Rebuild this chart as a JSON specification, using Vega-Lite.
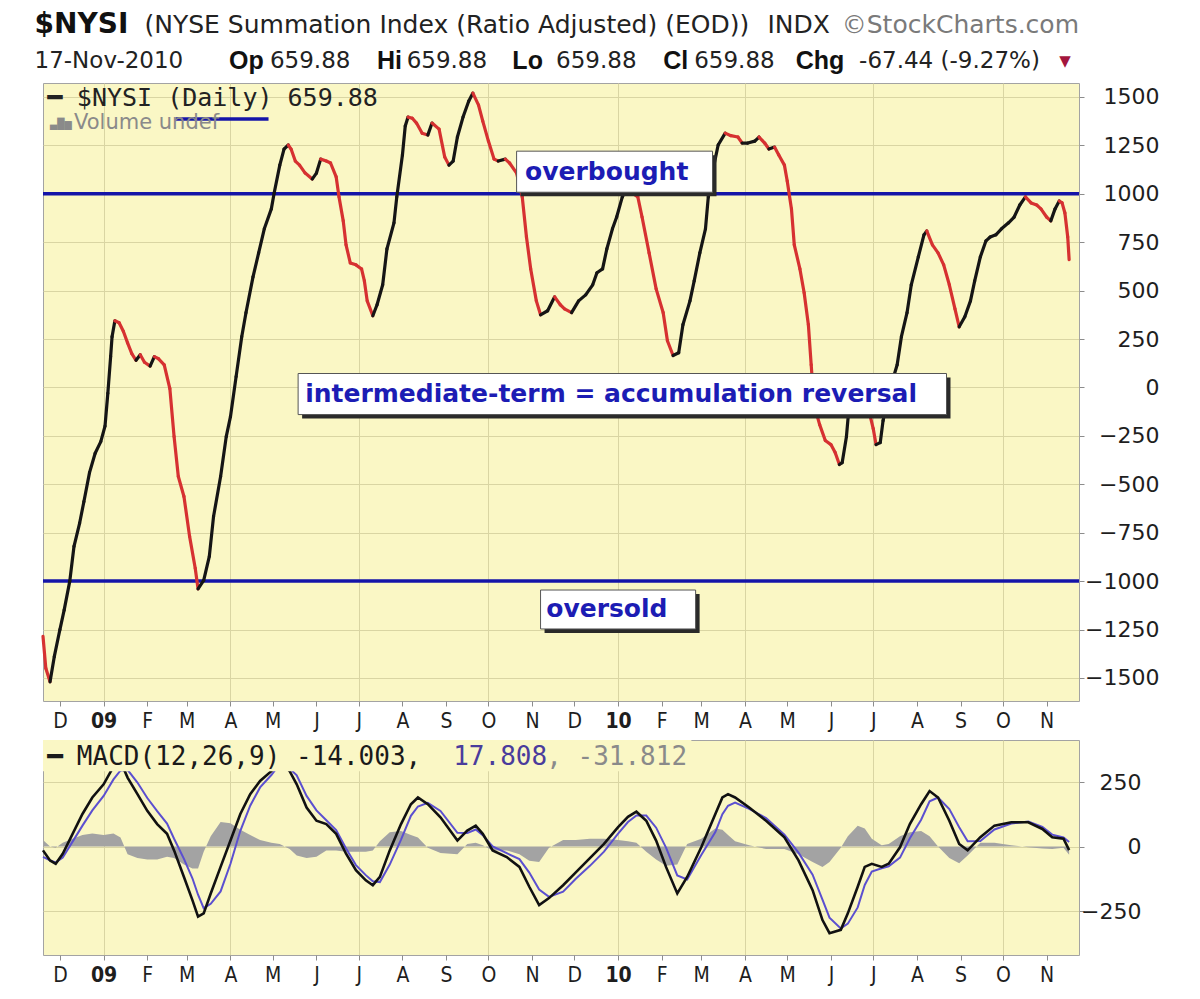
{
  "$schema": "https://vega.github.io/schema/vega-lite/v6.json",
  "background": "#ffffff",
  "padding": {"left": 34, "top": 10, "right": 0, "bottom": 0},
  "spacing": 7,
  "config": {
    "view": {"fill": "#faf7c5", "stroke": "#a3a3a3", "strokeWidth": 1},
    "font": "DejaVu Sans",
    "axis": {"title": null, "domain": false, "gridColor": "#d9d5a3", "gridWidth": 1, "tickColor": "#8c8c8c", "tickSize": 5, "labelColor": "#1e1e1e", "labelFont": "DejaVu Sans"}
  },
  "datasets": {
    "nysi": [
      {"date":"2008-11-19","value":-1285},{"date":"2008-11-21","value":-1450},{"date":"2008-11-24","value":-1520},{"date":"2008-11-27","value":-1390},
      {"date":"2008-12-01","value":-1250},{"date":"2008-12-04","value":-1150},{"date":"2008-12-08","value":-1000},{"date":"2008-12-11","value":-820},
      {"date":"2008-12-15","value":-700},{"date":"2008-12-18","value":-590},{"date":"2008-12-22","value":-440},{"date":"2008-12-26","value":-340},
      {"date":"2008-12-30","value":-280},{"date":"2009-01-02","value":-200},{"date":"2009-01-04","value":-30},{"date":"2009-01-06","value":160},
      {"date":"2009-01-07","value":262},{"date":"2009-01-09","value":344},{"date":"2009-01-12","value":334},{"date":"2009-01-15","value":290},
      {"date":"2009-01-18","value":230},{"date":"2009-01-21","value":175},{"date":"2009-01-24","value":140},{"date":"2009-01-27","value":169},
      {"date":"2009-01-30","value":130},{"date":"2009-02-03","value":110},{"date":"2009-02-06","value":159},{"date":"2009-02-09","value":148},
      {"date":"2009-02-13","value":117},{"date":"2009-02-17","value":-6},{"date":"2009-02-20","value":-254},{"date":"2009-02-23","value":-460},
      {"date":"2009-02-27","value":-563},{"date":"2009-03-03","value":-769},{"date":"2009-03-07","value":-934},{"date":"2009-03-09","value":-1040},
      {"date":"2009-03-13","value":-996},{"date":"2009-03-17","value":-872},{"date":"2009-03-20","value":-666},{"date":"2009-03-25","value":-460},
      {"date":"2009-03-29","value":-254},{"date":"2009-04-01","value":-151},{"date":"2009-04-05","value":56},{"date":"2009-04-09","value":262},
      {"date":"2009-04-12","value":386},{"date":"2009-04-17","value":571},{"date":"2009-04-21","value":695},{"date":"2009-04-25","value":819},
      {"date":"2009-04-30","value":922},{"date":"2009-05-02","value":1004},{"date":"2009-05-06","value":1148},{"date":"2009-05-09","value":1231},
      {"date":"2009-05-12","value":1252},{"date":"2009-05-14","value":1231},{"date":"2009-05-17","value":1169},{"date":"2009-05-20","value":1148},
      {"date":"2009-05-24","value":1107},{"date":"2009-05-29","value":1076},{"date":"2009-06-01","value":1107},{"date":"2009-06-04","value":1179},
      {"date":"2009-06-08","value":1169},{"date":"2009-06-11","value":1159},{"date":"2009-06-15","value":1087},{"date":"2009-06-17","value":984},
      {"date":"2009-06-20","value":860},{"date":"2009-06-22","value":736},{"date":"2009-06-25","value":643},{"date":"2009-06-29","value":633},
      {"date":"2009-07-03","value":612},{"date":"2009-07-05","value":550},{"date":"2009-07-07","value":447},{"date":"2009-07-11","value":370},
      {"date":"2009-07-14","value":427},{"date":"2009-07-18","value":530},{"date":"2009-07-21","value":715},{"date":"2009-07-26","value":850},
      {"date":"2009-07-28","value":984},{"date":"2009-08-01","value":1200},{"date":"2009-08-03","value":1350},{"date":"2009-08-05","value":1396},
      {"date":"2009-08-08","value":1390},{"date":"2009-08-11","value":1365},{"date":"2009-08-15","value":1313},{"date":"2009-08-19","value":1303},
      {"date":"2009-08-22","value":1365},{"date":"2009-08-27","value":1334},{"date":"2009-08-31","value":1190},{"date":"2009-09-03","value":1148},
      {"date":"2009-09-06","value":1169},{"date":"2009-09-09","value":1293},{"date":"2009-09-13","value":1396},{"date":"2009-09-17","value":1478},
      {"date":"2009-09-20","value":1520},{"date":"2009-09-24","value":1458},{"date":"2009-09-27","value":1375},{"date":"2009-10-01","value":1272},
      {"date":"2009-10-05","value":1179},{"date":"2009-10-08","value":1169},{"date":"2009-10-13","value":1179},{"date":"2009-10-16","value":1159},
      {"date":"2009-10-21","value":1107},{"date":"2009-10-25","value":984},{"date":"2009-10-28","value":777},{"date":"2009-10-31","value":612},
      {"date":"2009-11-04","value":447},{"date":"2009-11-07","value":375},{"date":"2009-11-12","value":396},{"date":"2009-11-17","value":468},
      {"date":"2009-11-21","value":427},{"date":"2009-11-24","value":406},{"date":"2009-11-29","value":386},{"date":"2009-12-04","value":447},
      {"date":"2009-12-09","value":478},{"date":"2009-12-14","value":530},{"date":"2009-12-17","value":592},{"date":"2009-12-21","value":612},
      {"date":"2009-12-24","value":715},{"date":"2009-12-28","value":819},{"date":"2009-12-31","value":880},{"date":"2010-01-04","value":984},
      {"date":"2010-01-07","value":1025},{"date":"2010-01-11","value":1004},{"date":"2010-01-15","value":984},{"date":"2010-01-18","value":880},
      {"date":"2010-01-23","value":695},{"date":"2010-01-28","value":509},{"date":"2010-02-02","value":386},{"date":"2010-02-05","value":241},
      {"date":"2010-02-09","value":165},{"date":"2010-02-13","value":179},{"date":"2010-02-16","value":324},{"date":"2010-02-21","value":447},
      {"date":"2010-02-24","value":550},{"date":"2010-02-28","value":695},{"date":"2010-03-04","value":819},{"date":"2010-03-06","value":984},
      {"date":"2010-03-10","value":1148},{"date":"2010-03-13","value":1252},{"date":"2010-03-18","value":1313},{"date":"2010-03-22","value":1300},
      {"date":"2010-03-27","value":1293},{"date":"2010-03-30","value":1262},{"date":"2010-04-03","value":1262},{"date":"2010-04-08","value":1272},
      {"date":"2010-04-11","value":1293},{"date":"2010-04-15","value":1262},{"date":"2010-04-18","value":1231},{"date":"2010-04-22","value":1241},
      {"date":"2010-04-25","value":1200},{"date":"2010-04-29","value":1148},{"date":"2010-05-01","value":1066},{"date":"2010-05-04","value":922},
      {"date":"2010-05-06","value":736},{"date":"2010-05-10","value":612},{"date":"2010-05-13","value":489},{"date":"2010-05-16","value":324},
      {"date":"2010-05-18","value":117},{"date":"2010-05-20","value":-89},{"date":"2010-05-24","value":-192},{"date":"2010-05-28","value":-274},
      {"date":"2010-06-01","value":-295},{"date":"2010-06-04","value":-336},{"date":"2010-06-07","value":-398},{"date":"2010-06-09","value":-388},
      {"date":"2010-06-12","value":-254},{"date":"2010-06-14","value":-89},{"date":"2010-06-18","value":-10},{"date":"2010-06-21","value":5},
      {"date":"2010-06-26","value":-60},{"date":"2010-07-01","value":-212},{"date":"2010-07-03","value":-295},{"date":"2010-07-06","value":-285},
      {"date":"2010-07-08","value":-171},{"date":"2010-07-13","value":-6},{"date":"2010-07-18","value":117},{"date":"2010-07-21","value":262},
      {"date":"2010-07-25","value":386},{"date":"2010-07-28","value":530},{"date":"2010-08-02","value":674},{"date":"2010-08-06","value":788},
      {"date":"2010-08-08","value":808},{"date":"2010-08-12","value":736},{"date":"2010-08-16","value":695},{"date":"2010-08-20","value":633},
      {"date":"2010-08-24","value":530},{"date":"2010-08-28","value":406},{"date":"2010-08-31","value":313},{"date":"2010-09-04","value":365},
      {"date":"2010-09-08","value":447},{"date":"2010-09-11","value":550},{"date":"2010-09-15","value":674},{"date":"2010-09-19","value":757},
      {"date":"2010-09-22","value":777},{"date":"2010-09-26","value":788},{"date":"2010-09-30","value":819},{"date":"2010-10-05","value":850},
      {"date":"2010-10-09","value":880},{"date":"2010-10-13","value":942},{"date":"2010-10-17","value":984},{"date":"2010-10-21","value":953},
      {"date":"2010-10-25","value":942},{"date":"2010-10-28","value":922},{"date":"2010-11-01","value":880},{"date":"2010-11-04","value":860},
      {"date":"2010-11-07","value":922},{"date":"2010-11-10","value":963},{"date":"2010-11-12","value":953},{"date":"2010-11-14","value":901},
      {"date":"2010-11-16","value":777},{"date":"2010-11-17","value":660}
    ],
    "macd": [
      {"date":"2008-11-19","macd":-15,"signal":-40,"hist":25},{"date":"2008-11-24","macd":-54,"signal":-54,"hist":0},
      {"date":"2008-11-28","macd":-67,"signal":-62,"hist":-5},{"date":"2008-12-03","macd":-28,"signal":-43,"hist":15},
      {"date":"2008-12-10","macd":49,"signal":19,"hist":30},{"date":"2008-12-17","macd":126,"signal":81,"hist":45},
      {"date":"2008-12-24","macd":190,"signal":140,"hist":50},{"date":"2009-01-01","macd":241,"signal":196,"hist":45},
      {"date":"2009-01-08","macd":310,"signal":260,"hist":50},{"date":"2009-01-13","macd":330,"signal":295,"hist":35},
      {"date":"2009-01-18","macd":267,"signal":297,"hist":-30},{"date":"2009-01-25","macd":203,"signal":248,"hist":-45},
      {"date":"2009-02-01","macd":138,"signal":188,"hist":-50},{"date":"2009-02-08","macd":87,"signal":137,"hist":-50},
      {"date":"2009-02-15","macd":49,"signal":89,"hist":-40},{"date":"2009-02-20","macd":-15,"signal":30,"hist":-45},
      {"date":"2009-02-27","macd":-118,"signal":-48,"hist":-70},{"date":"2009-03-05","macd":-208,"signal":-123,"hist":-85},
      {"date":"2009-03-09","macd":-272,"signal":-187,"hist":-85},{"date":"2009-03-13","macd":-259,"signal":-239,"hist":-20},
      {"date":"2009-03-18","macd":-182,"signal":-222,"hist":40},{"date":"2009-03-25","macd":-79,"signal":-174,"hist":95},
      {"date":"2009-04-01","macd":23,"signal":-67,"hist":90},{"date":"2009-04-08","macd":126,"signal":61,"hist":65},
      {"date":"2009-04-15","macd":203,"signal":158,"hist":45},{"date":"2009-04-22","macd":254,"signal":229,"hist":25},
      {"date":"2009-04-30","macd":292,"signal":277,"hist":15},{"date":"2009-05-06","macd":330,"signal":320,"hist":10},
      {"date":"2009-05-13","macd":292,"signal":302,"hist":-10},{"date":"2009-05-18","macd":241,"signal":276,"hist":-35},
      {"date":"2009-05-25","macd":151,"signal":196,"hist":-45},{"date":"2009-06-01","macd":100,"signal":140,"hist":-40},
      {"date":"2009-06-08","macd":87,"signal":102,"hist":-15},{"date":"2009-06-15","macd":49,"signal":64,"hist":-15},
      {"date":"2009-06-22","macd":-28,"signal":-8,"hist":-20},{"date":"2009-06-29","macd":-92,"signal":-72,"hist":-20},
      {"date":"2009-07-06","macd":-131,"signal":-111,"hist":-20},{"date":"2009-07-11","macd":-150,"signal":-135,"hist":-15},
      {"date":"2009-07-16","macd":-118,"signal":-138,"hist":20},{"date":"2009-07-23","macd":-15,"signal":-70,"hist":55},
      {"date":"2009-07-31","macd":87,"signal":27,"hist":60},{"date":"2009-08-07","macd":164,"signal":119,"hist":45},
      {"date":"2009-08-12","macd":190,"signal":155,"hist":35},{"date":"2009-08-19","macd":164,"signal":169,"hist":-5},
      {"date":"2009-08-28","macd":113,"signal":138,"hist":-25},{"date":"2009-09-09","macd":23,"signal":53,"hist":-30},
      {"date":"2009-09-16","macd":62,"signal":52,"hist":10},{"date":"2009-09-22","macd":81,"signal":66,"hist":15},
      {"date":"2009-09-27","macd":49,"signal":44,"hist":5},{"date":"2009-10-04","macd":-15,"signal":0,"hist":-15},
      {"date":"2009-10-14","macd":-41,"signal":-26,"hist":-15},{"date":"2009-10-23","macd":-79,"signal":-49,"hist":-30},
      {"date":"2009-10-30","macd":-156,"signal":-101,"hist":-55},{"date":"2009-11-06","macd":-227,"signal":-167,"hist":-60},
      {"date":"2009-11-13","macd":-200,"signal":-195,"hist":-5},{"date":"2009-11-23","macd":-150,"signal":-175,"hist":25},
      {"date":"2009-12-02","macd":-100,"signal":-125,"hist":25},{"date":"2009-12-12","macd":-45,"signal":-75,"hist":30},
      {"date":"2009-12-22","macd":10,"signal":-20,"hist":30},{"date":"2010-01-01","macd":75,"signal":50,"hist":25},
      {"date":"2010-01-08","macd":115,"signal":95,"hist":20},{"date":"2010-01-14","macd":135,"signal":120,"hist":15},
      {"date":"2010-01-21","macd":100,"signal":120,"hist":-20},{"date":"2010-01-28","macd":23,"signal":73,"hist":-50},
      {"date":"2010-02-04","macd":-79,"signal":-4,"hist":-75},{"date":"2010-02-12","macd":-182,"signal":-112,"hist":-70},
      {"date":"2010-02-19","macd":-118,"signal":-128,"hist":10},{"date":"2010-03-01","macd":-3,"signal":-33,"hist":30},
      {"date":"2010-03-11","macd":126,"signal":56,"hist":70},{"date":"2010-03-16","macd":190,"signal":125,"hist":65},
      {"date":"2010-03-20","macd":203,"signal":158,"hist":45},{"date":"2010-03-25","macd":190,"signal":170,"hist":20},
      {"date":"2010-04-04","macd":151,"signal":146,"hist":5},{"date":"2010-04-16","macd":100,"signal":110,"hist":-10},
      {"date":"2010-04-29","macd":36,"signal":46,"hist":-10},{"date":"2010-05-09","macd":-54,"signal":-24,"hist":-30},
      {"date":"2010-05-19","macd":-169,"signal":-109,"hist":-60},{"date":"2010-05-26","macd":-285,"signal":-206,"hist":-79},
      {"date":"2010-05-31","macd":-336,"signal":-276,"hist":-60},{"date":"2010-06-08","macd":-323,"signal":-318,"hist":-5},
      {"date":"2010-06-13","macd":-259,"signal":-299,"hist":40},{"date":"2010-06-20","macd":-156,"signal":-236,"hist":80},
      {"date":"2010-06-25","macd":-79,"signal":-149,"hist":70},{"date":"2010-06-30","macd":-67,"signal":-97,"hist":30},
      {"date":"2010-07-07","macd":-79,"signal":-84,"hist":5},{"date":"2010-07-12","macd":-67,"signal":-77,"hist":10},
      {"date":"2010-07-20","macd":-3,"signal":-43,"hist":40},{"date":"2010-07-27","macd":87,"signal":32,"hist":55},
      {"date":"2010-08-04","macd":164,"signal":104,"hist":60},{"date":"2010-08-10","macd":215,"signal":175,"hist":40},
      {"date":"2010-08-16","macd":190,"signal":190,"hist":0},{"date":"2010-08-24","macd":100,"signal":145,"hist":-45},
      {"date":"2010-08-31","macd":10,"signal":75,"hist":-65},{"date":"2010-09-06","macd":-15,"signal":20,"hist":-35},
      {"date":"2010-09-15","macd":36,"signal":21,"hist":15},{"date":"2010-09-25","macd":81,"signal":66,"hist":15},
      {"date":"2010-10-07","macd":94,"signal":89,"hist":5},{"date":"2010-10-19","macd":94,"signal":97,"hist":-3},
      {"date":"2010-10-29","macd":68,"signal":76,"hist":-8},{"date":"2010-11-05","macd":36,"signal":46,"hist":-10},
      {"date":"2010-11-13","macd":30,"signal":35,"hist":-5},{"date":"2010-11-17","macd":-14.003,"signal":17.808,"hist":-31.812}
    ],
    "blue_lines": [
      {"date":"2008-11-19","date2":"2010-11-24","value":1000},
      {"date":"2008-11-19","date2":"2010-11-24","value":-1000},
      {"date":"2009-02-21","date2":"2009-04-28","value":1386}
    ],
    "boxes": [
      {"date":"2009-10-21","date2":"2010-03-09","value":1220,"value2":1008},
      {"date":"2009-05-19","date2":"2010-08-22","value":72,"value2":-140},
      {"date":"2009-11-07","date2":"2010-02-25","value":-1046,"value2":-1247}
    ],
    "labels": [
      {"group":"title","date":"2008-11-13","value":1871,"text":"$NYSI"},
      {"group":"subtitle","date":"2009-01-30","value":1871,"text":"(NYSE Summation Index (Ratio Adjusted) (EOD))"},
      {"group":"subtitle","date":"2010-04-17","value":1871,"text":"INDX"},
      {"group":"credit","date":"2010-11-24","value":1871,"text":"©StockCharts.com"},
      {"group":"quote","date":"2008-11-13","value":1686,"text":"17-Nov-2010"},
      {"group":"quote-key","date":"2009-03-31","value":1686,"text":"Op"},
      {"group":"quote","date":"2009-04-29","value":1686,"text":"659.88"},
      {"group":"quote-key","date":"2009-07-14","value":1686,"text":"Hi"},
      {"group":"quote","date":"2009-08-04","value":1686,"text":"659.88"},
      {"group":"quote-key","date":"2009-10-18","value":1686,"text":"Lo"},
      {"group":"quote","date":"2009-11-18","value":1686,"text":"659.88"},
      {"group":"quote-key","date":"2010-02-02","value":1686,"text":"Cl"},
      {"group":"quote","date":"2010-02-24","value":1686,"text":"659.88"},
      {"group":"quote-key","date":"2010-05-07","value":1686,"text":"Chg"},
      {"group":"quote","date":"2010-06-21","value":1686,"text":"-67.44 (-9.27%)"},
      {"group":"down","date":"2010-11-10","value":1686,"text":"▼"},
      {"group":"legend","date":"2008-11-22","value":1495,"text":"━"},
      {"group":"legend","date":"2008-12-13","value":1495,"text":"$NYSI (Daily) 659.88"},
      {"group":"volume-icon","date":"2008-11-24","value":1366,"text":"▃▇▅"},
      {"group":"volume","date":"2008-12-11","value":1366,"text":"Volume undef"},
      {"group":"zone","date":"2009-10-27","value":1112,"text":"overbought"},
      {"group":"zone","date":"2009-05-24","value":-34,"text":"intermediate-term = accumulation reversal"},
      {"group":"zone","date":"2009-11-11","value":-1142,"text":"oversold"}
    ],
    "macd_legend_box": [
      {"date":"2008-11-19","date2":"2010-02-22","value":412.8,"value2":292}
    ],
    "macd_labels": [
      {"group":"macd","date":"2008-11-22","value":345,"text":"━"},
      {"group":"macd","date":"2008-12-13","value":345,"text":"MACD(12,26,9) -14.003,"},
      {"group":"signal","date":"2009-09-06","value":345,"text":"17.808"},
      {"group":"hist","date":"2009-11-11","value":345,"text":", -31.812"}
    ]
  },
  "vconcat": [
    {
      "width": 1036,
      "height": 618,
      "encoding": {
        "x": {"field": "date", "type": "temporal",
          "scale": {"type": "utc", "domain": [{"year": 2008, "month": 11, "date": 19, "utc": true}, {"year": 2010, "month": 11, "date": 24, "utc": true}]},
          "axis": {"orient": "bottom", "tickCount": {"interval": "month", "step": 1}, "grid": true,
            "gridOpacity": {"condition": {"test": "utcmonth(datum.value) % 3 == 0", "value": 1}, "value": 0},
            "labelExpr": "utcmonth(datum.value) == 0 ? utcFormat(datum.value, '%y') : slice(utcFormat(datum.value, '%b'), 0, 1)",
            "labelFontWeight": {"condition": {"test": "utcmonth(datum.value) == 0", "value": "bold"}, "value": "normal"},
            "labelFont": "Liberation Sans Narrow, DejaVu Sans Condensed, Liberation Sans", "labelFontSize": 21, "labelPadding": 4,
            "labelOverlap": false, "labelFlush": false, "labelBound": false}},
        "y": {"field": "value", "type": "quantitative",
          "scale": {"domain": [-1619, 1572], "nice": false, "zero": false},
          "axis": {"orient": "right", "values": [-1500, -1250, -1000, -750, -500, -250, 0, 250, 500, 750, 1000, 1250, 1500], "format": "d",
            "grid": true, "labelAlign": "right", "labelBaseline": "middle", "labelPadding": 75, "labelFontSize": 22}}
      },
      "layer": [
        {"data": {"name": "blue_lines"}, "mark": {"type": "rule", "strokeWidth": 3.5, "color": "#1414a8"}, "encoding": {"x2": {"field": "date2"}}},
        {"data": {"name": "nysi"},
          "transform": [
            {"window": [{"op": "lead", "field": "date", "as": "date2"}, {"op": "lead", "field": "value", "as": "value2"}], "sort": [{"field": "date", "order": "ascending"}]},
            {"filter": "isValid(datum.value2)"},
            {"calculate": "datum.value2 < datum.value ? 'falling' : 'rising'", "as": "direction"}
          ],
          "mark": {"type": "rule", "strokeWidth": 3.2, "strokeCap": "round"},
          "encoding": {
            "x2": {"field": "date2"},
            "y2": {"field": "value2"},
            "color": {"field": "direction", "type": "nominal", "scale": {"domain": ["rising", "falling"], "range": ["#151515", "#d63131"]}, "legend": null}
          }},
        {"data": {"name": "boxes"}, "mark": {"type": "rect", "fill": "#2a2a2a", "xOffset": 4, "x2Offset": 4, "yOffset": 4, "y2Offset": 4}, "encoding": {"x2": {"field": "date2"}, "y2": {"field": "value2"}}},
        {"data": {"name": "boxes"}, "mark": {"type": "rect", "fill": "#ffffff", "stroke": "#555555", "strokeWidth": 1}, "encoding": {"x2": {"field": "date2"}, "y2": {"field": "value2"}}},
        {"data": {"name": "labels"}, "transform": [{"filter": "datum.group == 'zone'"}],
          "mark": {"type": "text", "align": "left", "baseline": "middle", "font": "DejaVu Sans", "fontWeight": "bold", "fontSize": 25, "color": "#1c1cb4"},
          "encoding": {"text": {"field": "text"}}},
        {"data": {"name": "labels"}, "transform": [{"filter": "datum.group == 'title'"}],
          "mark": {"type": "text", "align": "left", "baseline": "middle", "font": "DejaVu Sans", "fontWeight": "bold", "fontSize": 28, "color": "#111111"},
          "encoding": {"text": {"field": "text"}}},
        {"data": {"name": "labels"}, "transform": [{"filter": "datum.group == 'subtitle'"}],
          "mark": {"type": "text", "align": "left", "baseline": "middle", "font": "DejaVu Sans", "fontSize": 25, "color": "#222222"},
          "encoding": {"text": {"field": "text"}}},
        {"data": {"name": "labels"}, "transform": [{"filter": "datum.group == 'credit'"}],
          "mark": {"type": "text", "align": "right", "baseline": "middle", "font": "DejaVu Sans", "fontSize": 25, "color": "#7a7a7a"},
          "encoding": {"text": {"field": "text"}}},
        {"data": {"name": "labels"}, "transform": [{"filter": "datum.group == 'quote'"}],
          "mark": {"type": "text", "align": "left", "baseline": "middle", "font": "DejaVu Sans", "fontSize": 23, "color": "#222222"},
          "encoding": {"text": {"field": "text"}}},
        {"data": {"name": "labels"}, "transform": [{"filter": "datum.group == 'quote-key'"}],
          "mark": {"type": "text", "align": "left", "baseline": "middle", "font": "Liberation Sans", "fontWeight": "bold", "fontSize": 25, "color": "#111111"},
          "encoding": {"text": {"field": "text"}}},
        {"data": {"name": "labels"}, "transform": [{"filter": "datum.group == 'down'"}],
          "mark": {"type": "text", "align": "left", "baseline": "middle", "font": "DejaVu Sans", "fontSize": 15, "color": "#a3163d"},
          "encoding": {"text": {"field": "text"}}},
        {"data": {"name": "labels"}, "transform": [{"filter": "datum.group == 'legend'"}],
          "mark": {"type": "text", "align": "left", "baseline": "middle", "font": "DejaVu Sans Mono", "fontSize": 25, "color": "#222222"},
          "encoding": {"text": {"field": "text"}}},
        {"data": {"name": "labels"}, "transform": [{"filter": "datum.group == 'volume-icon'"}],
          "mark": {"type": "text", "align": "left", "baseline": "middle", "font": "DejaVu Sans Mono", "fontSize": 12, "color": "#8a8a8a"},
          "encoding": {"text": {"field": "text"}}},
        {"data": {"name": "labels"}, "transform": [{"filter": "datum.group == 'volume'"}],
          "mark": {"type": "text", "align": "left", "baseline": "middle", "font": "DejaVu Sans", "fontSize": 21, "color": "#8a8a8a"},
          "encoding": {"text": {"field": "text"}}}
      ]
    },
    {
      "width": 1036,
      "height": 215,
      "encoding": {
        "x": {"field": "date", "type": "temporal",
          "scale": {"type": "utc", "domain": [{"year": 2008, "month": 11, "date": 19, "utc": true}, {"year": 2010, "month": 11, "date": 24, "utc": true}]},
          "axis": {"orient": "bottom", "tickCount": {"interval": "month", "step": 1}, "grid": true,
            "gridOpacity": {"condition": {"test": "utcmonth(datum.value) % 3 == 0", "value": 1}, "value": 0},
            "labelExpr": "utcmonth(datum.value) == 0 ? utcFormat(datum.value, '%y') : slice(utcFormat(datum.value, '%b'), 0, 1)",
            "labelFontWeight": {"condition": {"test": "utcmonth(datum.value) == 0", "value": "bold"}, "value": "normal"},
            "labelFont": "Liberation Sans Narrow, DejaVu Sans Condensed, Liberation Sans", "labelFontSize": 21, "labelPadding": 4,
            "labelOverlap": false, "labelFlush": false, "labelBound": false}},
        "y": {"field": "value", "type": "quantitative",
          "scale": {"domain": [-420.5, 412.8], "nice": false, "zero": false},
          "axis": {"orient": "right", "values": [-250, 0, 250], "format": "d", "grid": true, "labelAlign": "right", "labelBaseline": "middle", "labelPadding": 57, "labelFontSize": 22}}
      },
      "layer": [
        {"data": {"name": "macd"}, "mark": {"type": "area", "color": "#a3a3a3", "opacity": 1},
          "encoding": {"y": {"field": "hist"}, "y2": {"datum": 0}}},
        {"data": {"name": "macd"}, "mark": {"type": "line", "color": "#5b4fd0", "strokeWidth": 2},
          "encoding": {"y": {"field": "signal"}}},
        {"data": {"name": "macd"}, "mark": {"type": "line", "color": "#111111", "strokeWidth": 2.6},
          "encoding": {"y": {"field": "macd"}}},
        {"data": {"name": "macd_legend_box"}, "mark": {"type": "rect", "fill": "#faf7c5"},
          "encoding": {"x2": {"field": "date2"}, "y2": {"field": "value2"}}},
        {"data": {"name": "macd_labels"}, "transform": [{"filter": "datum.group == 'macd'"}],
          "mark": {"type": "text", "align": "left", "baseline": "middle", "font": "DejaVu Sans Mono", "fontSize": 26, "color": "#1a1a1a"},
          "encoding": {"text": {"field": "text"}}},
        {"data": {"name": "macd_labels"}, "transform": [{"filter": "datum.group == 'signal'"}],
          "mark": {"type": "text", "align": "left", "baseline": "middle", "font": "DejaVu Sans Mono", "fontSize": 26, "color": "#4a3c9c"},
          "encoding": {"text": {"field": "text"}}},
        {"data": {"name": "macd_labels"}, "transform": [{"filter": "datum.group == 'hist'"}],
          "mark": {"type": "text", "align": "left", "baseline": "middle", "font": "DejaVu Sans Mono", "fontSize": 26, "color": "#8a8a8a"},
          "encoding": {"text": {"field": "text"}}}
      ]
    }
  ]
}
